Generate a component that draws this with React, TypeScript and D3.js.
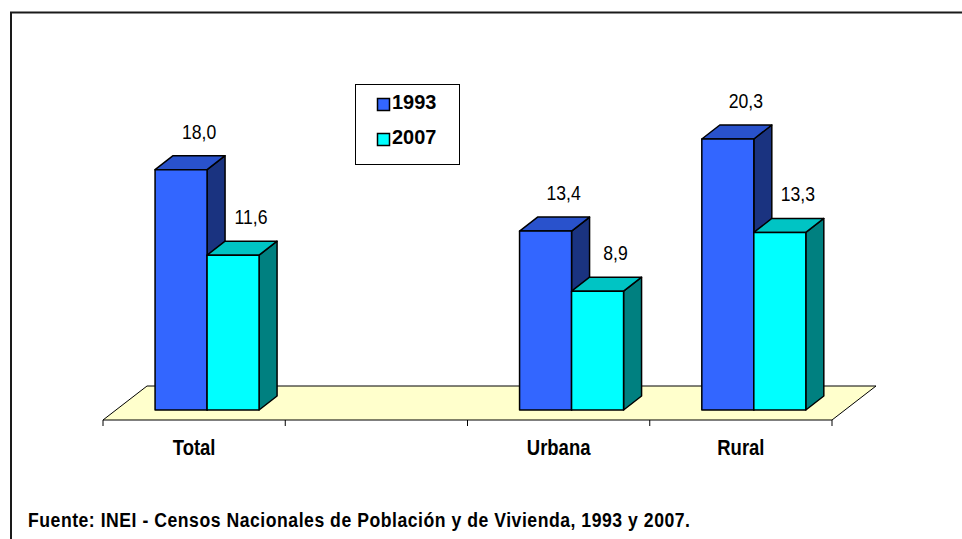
import { useEffect, useRef } from "react";
import * as d3 from "d3";

const categories = ["Total", "", "Urbana", "Rural"];
const seriesNames = ["1993", "2007"];
const values1993 = [18.0, null, 13.4, 20.3];
const values2007 = [11.6, null, 8.9, 13.3];
const footer = "Fuente: INEI - Censos Nacionales de Población y de Vivienda, 1993 y 2007.";

const FONT = "'Liberation Sans', Arial, sans-serif";
const NARROW = 0.84; // squeeze to look like Arial Narrow

export default function App() {
  const svgRef = useRef<SVGSVGElement | null>(null);

  useEffect(() => {
    const width = 962;
    const height = 539;
    const svg = d3.select(svgRef.current).attr("width", width).attr("height", height);
    svg.selectAll("*").remove();

    const narrowText = (parent: any, tx: number, ty: number, txt: string, size: number, bold = false, anchor = "middle", sx = NARROW) =>
      parent.append("text")
        .attr("transform", `translate(${tx},${ty}) scale(${sx},1)`)
        .attr("text-anchor", anchor)
        .attr("font-family", FONT).attr("font-size", size)
        .attr("font-weight", bold ? "bold" : "normal")
        .attr("fill", "#000")
        .text(txt);

    // outer frame (runs off the right and bottom edges)
    svg.append("rect")
      .attr("x", 11).attr("y", 12.5)
      .attr("width", 1000).attr("height", 600)
      .attr("fill", "white").attr("stroke", "#1a1a1a").attr("stroke-width", 2);

    // plot geometry
    const floorFront = 420;
    const floorDx = 44, floorDy = -34;
    const barDx = 18, barDy = -14;
    const depthShift = 10; // bar front sits this far behind floor front edge
    const base = floorFront - depthShift;

    const x = d3.scaleBand<string>().domain(categories.map((c, i) => i + "")).range([103, 832]);
    const pairWidth = 104;
    const inner = d3.scaleBand<string>().domain(seriesNames).range([0, pairWidth]);
    const y = d3.scaleLinear().domain([0, 25]).range([base, base - 25 * 13.35]);
    const shiftX = depthShift * floorDx / -floorDy;

    const [x0, x1] = x.range();

    // floor
    svg.append("path")
      .attr("d", `M${x0},${floorFront} L${x1},${floorFront} L${x1 + floorDx},${floorFront + floorDy} L${x0 + floorDx},${floorFront + floorDy} Z`)
      .attr("fill", "#ffffcc").attr("stroke", "#000").attr("stroke-width", 1);

    // axis ticks on front edge
    const tickXs = [...categories.map((_, i) => x(i + "")!), x1];
    svg.append("g").selectAll("line").data(tickXs).join("line")
      .attr("x1", d => d).attr("x2", d => d)
      .attr("y1", floorFront).attr("y2", floorFront + 6)
      .attr("stroke", "#000").attr("stroke-width", 1);

    const series = [
      { name: "1993", values: values1993, front: "#3366ff", top: "#2952cc", side: "#1a3380" },
      { name: "2007", values: values2007, front: "#00ffff", top: "#00c4c4", side: "#008080" },
    ];

    const bars = svg.append("g");
    const labels = svg.append("g");
    categories.forEach((_, i) => {
      series.forEach(s => {
        const v = s.values[i];
        if (v == null) return;
        const left = x(i + "")! + (x.bandwidth() - pairWidth) / 2 + shiftX + inner(s.name)!;
        const right = left + inner.bandwidth();
        const top = y(v);
        const g = bars.append("g")
          .attr("stroke", "#000").attr("stroke-width", 1.5).attr("stroke-linejoin", "round");
        g.append("path")
          .attr("d", `M${right},${base} L${right + barDx},${base + barDy} L${right + barDx},${top + barDy} L${right},${top} Z`)
          .attr("fill", s.side);
        g.append("path")
          .attr("d", `M${left},${top} L${right},${top} L${right + barDx},${top + barDy} L${left + barDx},${top + barDy} Z`)
          .attr("fill", s.top);
        g.append("rect")
          .attr("x", left).attr("y", top)
          .attr("width", right - left).attr("height", base - top)
          .attr("fill", s.front);
        narrowText(labels, (left + right) / 2 + barDx, top - 31, d3.format(".1f")(v).replace(".", ","), 21);
      });
    });

    // category labels
    const catG = svg.append("g");
    categories.forEach((c, i) => {
      if (c) narrowText(catG, x(i + "")! + x.bandwidth() / 2, 455, c, 22, true);
    });

    // legend
    const legend = svg.append("g");
    legend.append("rect")
      .attr("x", 355.5).attr("y", 84.5).attr("width", 104).attr("height", 80)
      .attr("fill", "white").attr("stroke", "#000").attr("stroke-width", 1);
    series.forEach((s, i) => {
      const ly = 98 + i * 35;
      legend.append("rect")
        .attr("x", 377.5).attr("y", ly + 0.5).attr("width", 12).attr("height", 12)
        .attr("fill", s.front).attr("stroke", "#000").attr("stroke-width", 1.5);
      narrowText(legend, 392, ly + 11, s.name, 21, true, "start", 0.95);
    });

    // source
    svg.append("text")
      .attr("transform", `translate(28,527) scale(${NARROW},1)`)
      .attr("font-family", FONT).attr("font-size", 21).attr("font-weight", "bold")
      .attr("textLength", 662 / NARROW).attr("lengthAdjust", "spacing")
      .text(footer);
  }, []);

  return (
    <svg ref={svgRef} style={{ position: "absolute", left: 0, top: 0 }}></svg>
  );
}
